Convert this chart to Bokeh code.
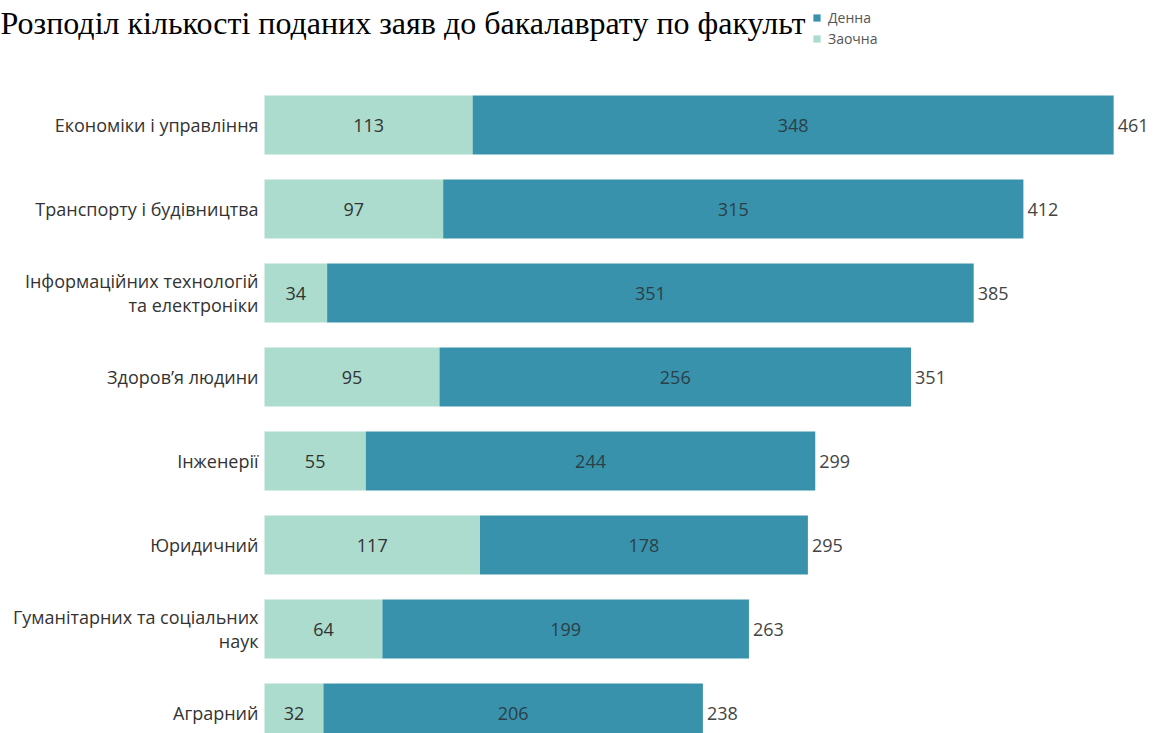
from bokeh.plotting import figure
from bokeh.models import Range1d, ColumnDataSource, Label, Legend, LegendItem
from bokeh.core.properties import value
from bokeh.embed import file_html
from bokeh.resources import INLINE

categories = ["Економіки і управління", "Транспорту і будівництва",
              "Інформаційних технологій\nта електроніки", "Здоров’я людини",
              "Інженерії", "Юридичний", "Гуманітарних та соціальних\nнаук", "Аграрний"]
zaochna = [113, 97, 34, 95, 55, 117, 64, 32]
denna = [348, 315, 351, 256, 244, 178, 199, 206]
series_names = ["Денна", "Заочна"]
title_text = "Розподіл кількості поданих заяв до бакалаврату по факульт"

C_DENNA = "#3892ab"
C_ZAOCH = "#acdccd"
FONT = "Open Sans"

W, H = 1153, 733
x0_px, scale = 264.0, 1.842
first_px, step_px = 124.5, 84.0

idx = list(range(len(categories)))
totals = [a + b for a, b in zip(zaochna, denna)]
src = ColumnDataSource(dict(
    y=idx, cat=categories, z=zaochna, d=denna, tot=totals,
    zmid=[z / 2 for z in zaochna],
    dmid=[z + d / 2 for z, d in zip(zaochna, denna)],
    zs=[str(v) for v in zaochna], ds=[str(v) for v in denna], ts=[str(v) for v in totals],
))

p = figure(width=W, height=H, output_backend="svg", toolbar_location=None,
           x_range=Range1d(-x0_px / scale, (W - x0_px) / scale),
           y_range=Range1d((H - first_px) / step_px, -first_px / step_px),
           min_border=0, outline_line_color=None)
p.axis.visible = False
p.grid.visible = False
p.background_fill_color = "white"
p.border_fill_color = "white"

h = 59.0 / step_px
rz = p.hbar(y="y", left=0, right="z", height=h, source=src, fill_color=C_ZAOCH, line_color=None)
rd = p.hbar(y="y", left="z", right="tot", height=h, source=src, fill_color=C_DENNA, line_color=None)

common = dict(text_font=value(FONT), text_font_size="18px", text_baseline="middle", source=src)
p.text(x="zmid", y="y", text="zs", text_align="center", text_color="#333333", **common)
p.text(x="dmid", y="y", text="ds", text_align="center", text_color="#2b3f48", **common)
p.text(x="tot", y="y", text="ts", text_align="left", x_offset=4, text_color="#444444", **common)
p.text(x=0, y="y", text="cat", text_align="right", x_offset=-6, text_color="#333333",
       text_line_height=1.0, source=src, text_font=value(FONT), text_font_size="18px",
       text_baseline="middle")

p.add_layout(Label(x=0, y=H - 22, x_units="screen", y_units="screen", text=title_text,
                   text_font="Liberation Serif", text_font_size="32px", text_color="black",
                   text_baseline="alphabetic"))

legend = Legend(items=[LegendItem(label=series_names[0], renderers=[rd]),
                       LegendItem(label=series_names[1], renderers=[rz])],
                location=(812, H - 48), orientation="vertical",
                glyph_width=9, glyph_height=9, label_text_font=FONT,
                label_text_font_size="14px", label_text_color="#555555",
                label_height=20, label_standoff=7, spacing=1, padding=0, margin=0,
                border_line_color=None, background_fill_color="white", background_fill_alpha=1)
p.add_layout(legend)

open("out.html", "w").write(file_html(p, INLINE))
